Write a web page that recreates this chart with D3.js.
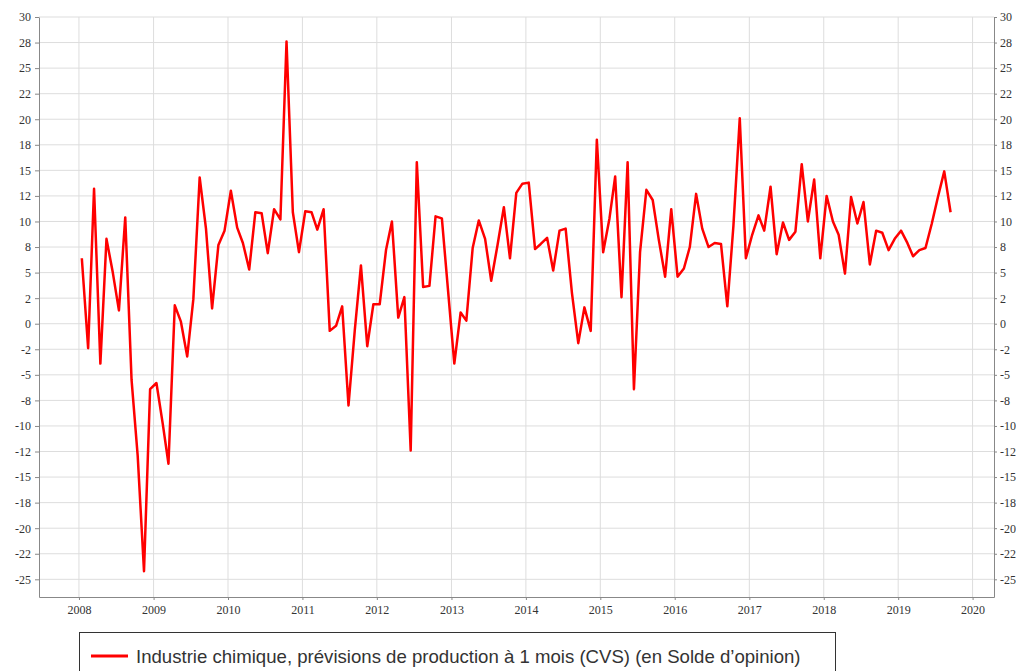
<!DOCTYPE html>
<html>
<head>
<meta charset="utf-8">
<script src="https://cdn.jsdelivr.net/npm/d3@7"></script>
<style>
  body { margin: 0; background: #fff; }
  .axis text { font-family: "Liberation Serif", serif; font-size: 12px; fill: #333; }
  .axis path, .axis line { stroke: #888; }
  .grid line { stroke: #ddd; }
  .legend text { font-family: "Liberation Sans", Arial, sans-serif; font-size: 18.6px; fill: #333; }
</style>
</head>
<body>
<div id="graph"></div>
<script>
var years = [2008, 2009, 2010, 2011, 2012, 2013, 2014, 2015, 2016, 2017, 2018, 2019, 2020];

var yTickValues = [-25, -22.5, -20, -17.5, -15, -12.5, -10, -7.5, -5, -2.5, 0, 2.5, 5, 7.5, 10, 12.5, 15, 17.5, 20, 22.5, 25, 27.5, 30];
var yTickLabels = ["-25", "-22", "-20", "-18", "-15", "-12", "-10", "-8", "-5", "-2", "0", "2", "5", "8", "10", "12", "15", "18", "20", "22", "25", "28", "30"];

// solde mensuel, janvier 2008 -> septembre 2019
var values = [
  6.4, -2.4, 13.2, -3.9, 8.3, 5.0, 1.3, 10.4, -5.5, -12.9, -24.2, -6.4,
  -5.8, -9.8, -13.7, 1.8, 0.2, -3.2, 2.4, 14.3, 9.3, 1.5, 7.7, 9.1,
  13.0, 9.4, 7.9, 5.3, 10.9, 10.8, 6.9, 11.2, 10.2, 27.6, 10.9, 7.0,
  11.0, 10.9, 9.2, 11.2, -0.7, -0.2, 1.7, -8.0, -0.6, 5.7, -2.2, 1.9,
  1.9, 7.2, 10.0, 0.6, 2.6, -12.4, 15.8, 3.6, 3.7, 10.5, 10.3, 3.3,
  -3.9, 1.1, 0.3, 7.4, 10.1, 8.3, 4.2, 7.7, 11.4, 6.4, 12.8, 13.7,
  13.8, 7.3, 7.8, 8.4, 5.2, 9.1, 9.3, 3.0, -1.9, 1.6, -0.7, 18.0,
  7.0, 10.3, 14.4, 2.6, 15.8, -6.4, 7.0, 13.1, 12.1, 8.2, 4.6, 11.2,
  4.6, 5.4, 7.5, 12.7, 9.3, 7.5, 7.9, 7.8, 1.7, 9.6, 20.1, 6.4,
  8.7, 10.6, 9.1, 13.4, 6.8, 9.9, 8.2, 9.0, 15.6, 10.0, 14.1, 6.4,
  12.5, 10.0, 8.7, 4.9, 12.4, 9.8, 11.9, 5.8, 9.1, 8.9, 7.2, 8.3,
  9.1, 7.9, 6.6, 7.2, 7.4, 9.8, 12.4, 14.9, 10.9
];

var seriesName = "Industrie chimique, prévisions de production à 1 mois (CVS) (en Solde d\u2019opinion)";

var data = values.map(function(v, i) {
  return { date: new Date(2008, i, 15), value: v };
});

var width = 1016, height = 671;
var margin = { top: 17, right: 22, bottom: 74, left: 39 };

var x = d3.scaleTime()
    .domain([new Date(2007, 5, 19), new Date(2020, 3, 15)])
    .range([margin.left, width - margin.right]);
var y = d3.scaleLinear()
    .domain([-26.73, 30])
    .range([height - margin.bottom, margin.top]);

var svg = d3.select("#graph").append("svg")
    .attr("width", width)
    .attr("height", height);

var yearDates = years.map(function(yr) { return new Date(yr, 0, 1); });

// grille
svg.append("g")
    .attr("class", "grid")
  .selectAll("line.h")
  .data(yTickValues)
  .enter().append("line")
    .attr("x1", margin.left).attr("x2", width - margin.right)
    .attr("y1", function(d) { return y(d); })
    .attr("y2", function(d) { return y(d); });

svg.select(".grid")
  .selectAll("line.v")
  .data(yearDates)
  .enter().append("line")
    .attr("class", "v")
    .attr("y1", margin.top).attr("y2", height - margin.bottom)
    .attr("x1", function(d) { return x(d); })
    .attr("x2", function(d) { return x(d); });

var yFormat = function(d) { return yTickLabels[yTickValues.indexOf(d)]; };

svg.append("g")
    .attr("class", "axis axis--left")
    .attr("transform", "translate(" + margin.left + ",0)")
    .call(d3.axisLeft(y).tickValues(yTickValues).tickFormat(yFormat).tickSizeInner(4).tickSizeOuter(0).tickPadding(4));

svg.append("g")
    .attr("class", "axis axis--right")
    .attr("transform", "translate(" + (width - margin.right) + ",0)")
    .call(d3.axisRight(y).tickValues(yTickValues).tickFormat(yFormat).tickSizeInner(3).tickSizeOuter(0).tickPadding(3));

svg.append("g")
    .attr("class", "axis axis--x")
    .attr("transform", "translate(0," + (height - margin.bottom) + ")")
    .call(d3.axisBottom(x).tickValues(yearDates).tickFormat(d3.timeFormat("%Y")).tickSizeInner(3).tickSizeOuter(0).tickPadding(5));

var line = d3.line()
    .x(function(d) { return x(d.date); })
    .y(function(d) { return y(d.value); });

svg.append("path")
    .datum(data)
    .attr("fill", "none")
    .attr("stroke", "#ff0000")
    .attr("stroke-width", 2.5)
    .attr("stroke-linejoin", "round")
    .attr("d", line);

// légende
var legend = svg.append("g").attr("class", "legend");
legend.append("rect")
    .attr("x", 79.5).attr("y", 632.5)
    .attr("width", 756).attr("height", 60)
    .attr("fill", "#fff")
    .attr("stroke", "#333");
legend.append("line")
    .attr("x1", 91).attr("x2", 128)
    .attr("y1", 656).attr("y2", 656)
    .attr("stroke", "#ff0000")
    .attr("stroke-width", 3);
legend.append("text")
    .attr("x", 136).attr("y", 663)
    .text(seriesName);
</script>
</body>
</html>
